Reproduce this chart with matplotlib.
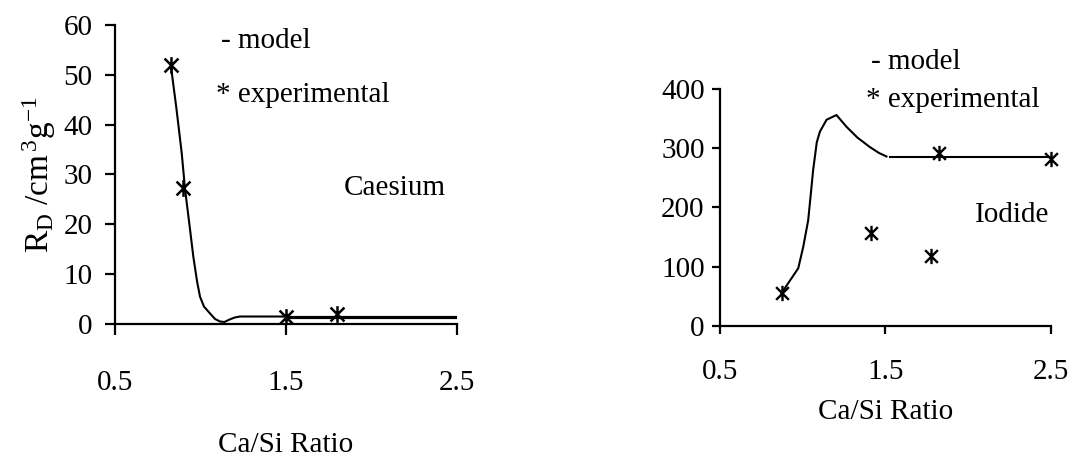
"""
Sorption ratio R_D vs Ca/Si ratio for caesium and iodide (model vs experiment)
"""
import matplotlib
matplotlib.use('Agg')
import matplotlib.pyplot as plt
from matplotlib.path import Path

plt.rcParams['font.family'] = ['Liberation Serif', 'DejaVu Serif']
plt.rcParams['mathtext.fontset'] = 'custom'
plt.rcParams['mathtext.rm'] = 'Liberation Serif'
plt.rcParams['mathtext.it'] = 'Liberation Serif:italic'

# Caesium data
cs_exp_x = [0.826, 0.896, 1.50, 1.80]
cs_exp_y = [52.0, 27.3, 1.5, 2.1]
cs_model_x = [0.826, 0.86, 0.89, 0.91, 0.935, 0.958, 0.98, 0.997, 1.02, 1.056,
              1.085, 1.114, 1.14, 1.17, 1.2, 1.23, 1.4, 1.5]
cs_model_y = [52.0, 43.0, 34.3, 26.9, 20.0, 13.5, 8.5, 5.5, 3.5, 2.1,
              1.0, 0.5, 0.4, 0.9, 1.3, 1.5, 1.5, 1.5]
cs_tail_x = [1.5, 2.5]
cs_tail_y = [1.5, 1.5]

# Iodide data
io_exp_x = [0.872, 1.415, 1.773, 1.823, 2.5]
io_exp_y = [55, 157, 117, 292, 282]
io_model_x = [0.872, 0.92, 0.973, 1.003, 1.033, 1.048, 1.063, 1.085, 1.104,
              1.144, 1.204, 1.265, 1.33, 1.405, 1.46, 1.506]
io_model_y = [55, 75, 97, 133, 178, 220, 263, 310, 328,
              348, 356, 336, 318, 302, 292, 286]
io_flat_x = [1.53, 2.5]
io_flat_y = [285, 285]

# X with a vertical bar, like the spreadsheet star marker
STAR = Path([(-1, -1), (1, 1), (-1, 1), (1, -1), (0, -1.2), (0, 1.2)],
            [Path.MOVETO, Path.LINETO, Path.MOVETO, Path.LINETO,
             Path.MOVETO, Path.LINETO])

FS = 21


def style_axes(ax, xpad, xlen, ylen, ypad):
    ax.spines['top'].set_visible(False)
    ax.spines['right'].set_visible(False)
    ax.spines['left'].set_linewidth(1.6)
    ax.spines['bottom'].set_linewidth(1.6)
    ax.set_xlim(0.5, 2.5)
    ax.set_xticks([0.5, 1.5, 2.5])
    ax.set_xticklabels(['0.5', '1.5', '2.5'])
    ax.tick_params(axis='x', direction='out', length=xlen, width=1.6,
                   labelsize=FS, pad=xpad)
    ax.tick_params(axis='y', direction='out', length=ylen, width=1.6,
                   labelsize=FS, pad=ypad)


fig = plt.figure(figsize=(10.72, 4.58), dpi=100)

# Caesium
ax1 = fig.add_axes([0.1073, 0.2926, 0.319, 0.6528])
ax1.plot(cs_model_x, cs_model_y, color='black', linewidth=1.5)
ax1.plot(cs_tail_x, cs_tail_y, color='black', linewidth=2.3)
ax1.plot(cs_exp_x, cs_exp_y, linestyle='none', marker=STAR, markersize=12,
         markeredgewidth=1.8, color='black')
ax1.set_ylim(0, 60)
ax1.set_yticks(range(0, 61, 10))
style_axes(ax1, 25, 8, 7, 9)
ax1.set_xlabel('Ca/Si Ratio', fontsize=FS, labelpad=26)
ax1.set_ylabel(r'R$_\mathrm{D}$ /cm$^{\,3}$g$^{-1}$', fontsize=24, labelpad=4)
ax1.text(0.31, 0.946, '- model', transform=ax1.transAxes, fontsize=FS,
         va='center')
ax1.text(0.295, 0.765, '* experimental', transform=ax1.transAxes, fontsize=FS,
         va='center')
ax1.text(0.67, 0.455, 'Caesium', transform=ax1.transAxes, fontsize=FS,
         va='center')

# Iodide
ax2 = fig.add_axes([0.6716, 0.2889, 0.3088, 0.5168])
ax2.plot(io_model_x, io_model_y, color='black', linewidth=1.5)
ax2.plot(io_flat_x, io_flat_y, color='black', linewidth=1.5)
ax2.plot(io_exp_x, io_exp_y, linestyle='none', marker=STAR, markersize=11,
         markeredgewidth=1.7, color='black', clip_on=False)
ax2.set_ylim(0, 400)
ax2.set_yticks(range(0, 401, 100))
style_axes(ax2, 18, 6, 6, 5)
ax2.set_xlabel('Ca/Si Ratio', fontsize=FS, labelpad=10)
ax2.text(0.455, 1.114, '- model', transform=ax2.transAxes, fontsize=FS,
         va='center')
ax2.text(0.44, 0.954, '* experimental', transform=ax2.transAxes, fontsize=FS,
         va='center')
ax2.text(0.77, 0.468, 'Iodide', transform=ax2.transAxes, fontsize=FS,
         va='center')

plt.savefig('out.png', dpi=100)
plt.close()
